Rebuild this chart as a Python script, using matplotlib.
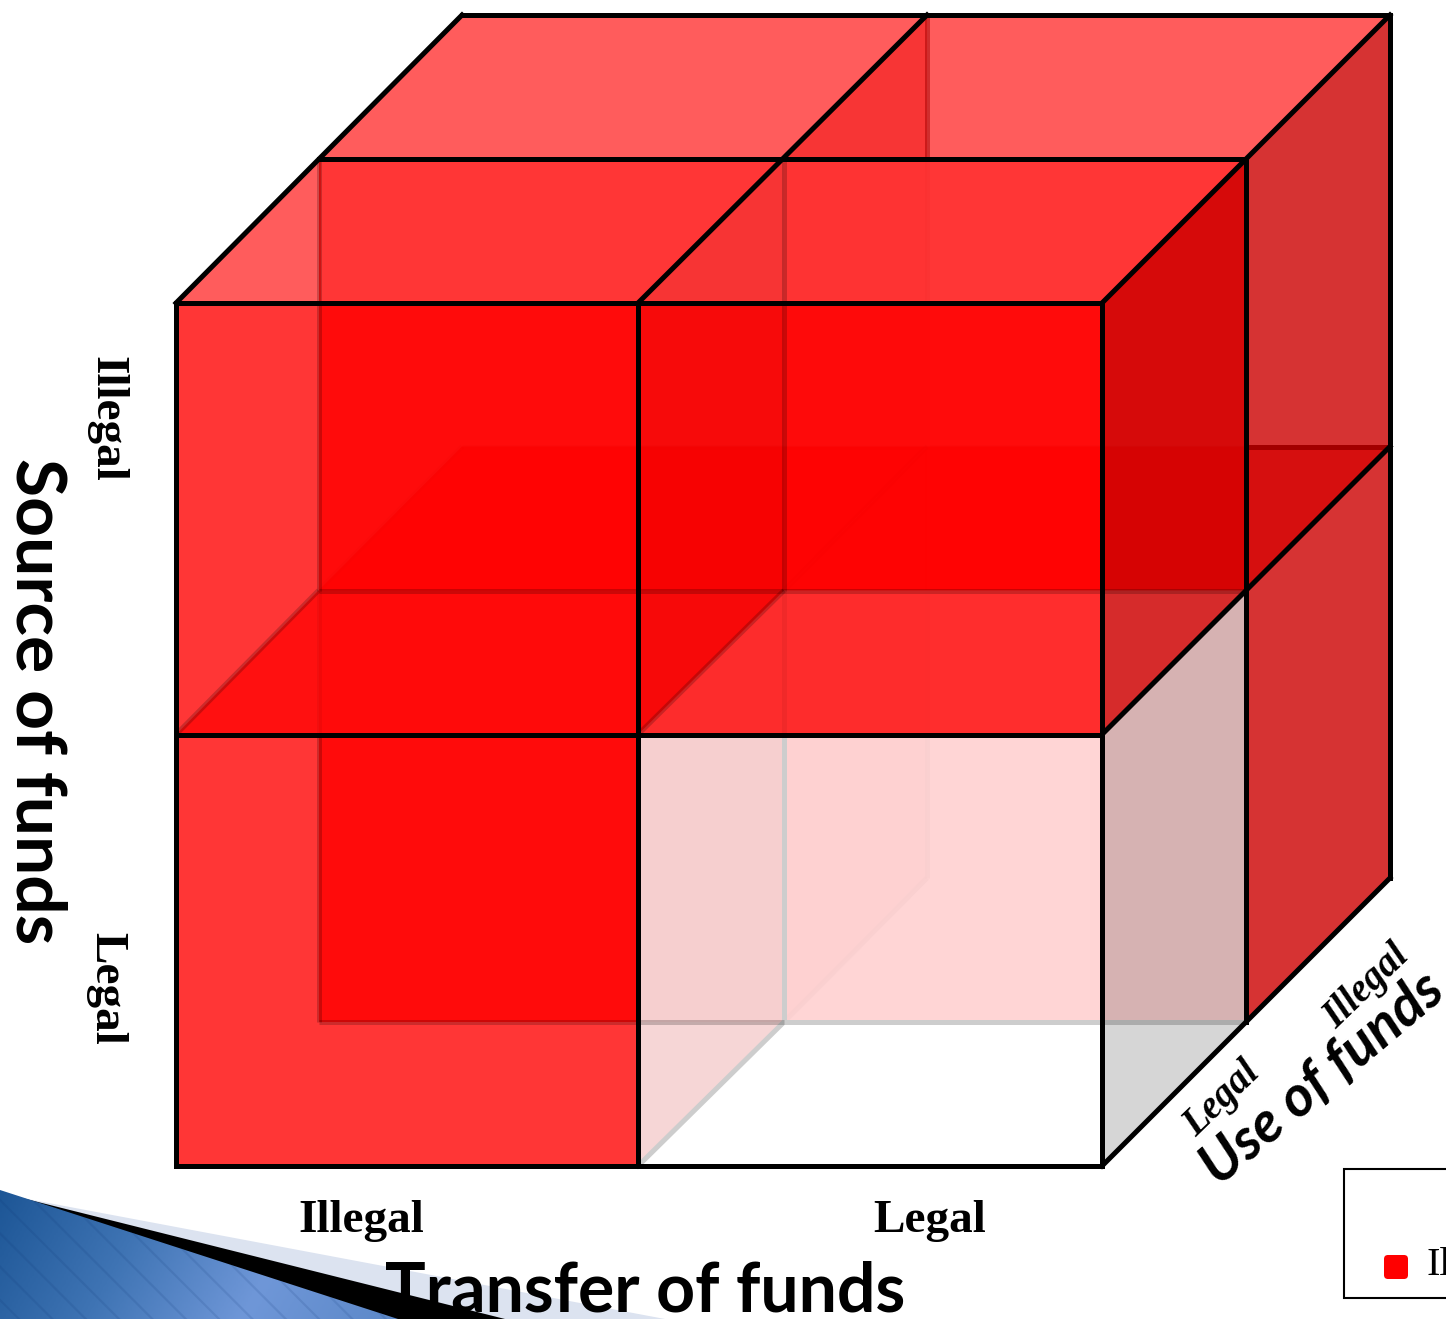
import numpy as np
import matplotlib
matplotlib.use("Agg")
import matplotlib.pyplot as plt
from matplotlib.colors import LinearSegmentedColormap
from matplotlib.patches import Polygon, Rectangle, FancyBboxPatch

# cube axes, one entry per cell along each direction
transfer_labels = ["Illegal", "Legal"]
source_labels = ["Illegal", "Legal"]
use_labels = ["Legal", "Illegal"]
axis_titles = ["Transfer of funds", "Source of funds", "Use of funds"]
legend_labels = ["Illegal"]

# cell_status[transfer][source][use]
cell_status = [
    [["Illegal", "Illegal"], ["Illegal", "Illegal"]],
    [["Illegal", "Illegal"], ["Legal", "Illegal"]],
]

RED = "#ff0000"
DARK = "#cc0000"
LW = 3.6
SERIF = "Liberation Serif"
SANS = "Lato"
STEP_S, STEP_D = 431.5, 144
INNER = 0.2   # see-through strength of the edges inside the cube
OVERLAP = STEP_D / STEP_S   # how far a face one cell deeper rises above the front top edge

# pixel columns of the grid lines at the three depths
COLS_FRONT = [176, 638, 1102]
COLS_MID = [318.5, 784, 1246]
COLS_BACK = [462, 927, 1390]

fig = plt.figure(figsize=(14.46, 13.19), dpi=100)
ax = fig.add_axes([0, 0, 1, 1])
ax.set_axis_off()

order = [10]


def project(t, s, d):
    # oblique projection of cube coordinates to pixels
    cols = [np.interp(t, [0, 1, 2], c) for c in (COLS_FRONT, COLS_MID, COLS_BACK)]
    return (np.interp(d, [0, 1, 2], cols), 303 + STEP_S * s - STEP_D * d)


def next_z():
    order[0] += 1
    return order[0]


def face(corners, color, alpha):
    pts = [project(*c) for c in corners]
    ax.add_patch(Polygon(pts, closed=True, fc=color, ec="none", alpha=alpha, zorder=next_z()))


def side(t, s0, s1, d0, d1, color, alpha):
    face([(t, s0, d0), (t, s0, d1), (t, s1, d1), (t, s1, d0)], color, alpha)


def flat(s, t0, t1, d0, d1, color, alpha):
    face([(t0, s, d0), (t1, s, d0), (t1, s, d1), (t0, s, d1)], color, alpha)


def wall(d, t0, t1, s0, s1, color, alpha):
    face([(t0, s0, d), (t1, s0, d), (t1, s1, d), (t0, s1, d)], color, alpha)


def edge(a, b, color="black", alpha=1.0):
    p, q = project(*a), project(*b)
    ax.plot([p[0], q[0]], [p[1], q[1]], color=color, alpha=alpha, lw=LW,
            solid_capstyle="butt" if alpha < 1 else "projecting", zorder=next_z())


def is_illegal(t, s, d):
    return cell_status[t][s][d] == "Illegal"


# back half: centre plane and its edges
side(1, 0, 2, 1, 2, DARK, 0.42)
edge((1, 0, 2), (1, 2, 2), alpha=0.5)
edge((1, 2, 1), (1, 2, 2), alpha=0.5)

# floor of the front left cell sits behind the middle wall
flat(1, 0, 1, 0, 1, RED, 0.7)

# middle wall hides most of what is behind it
for t0, t1, s0, s1 in [(0, 2, 0, 1), (0, 1, 1, 2)]:
    wall(1, t0, t1, s0, s1, "white", 0.88)
    wall(1, t0, t1, s0, s1, RED, 0.79)

# floor of the upper back cells shows through the wall, then the right side
for t in range(2):
    if is_illegal(t, 0, 1):
        flat(1, t, t + 1, 1, 2, RED, 0.7)
edge((0, 1, 1), (0, 1, 2), alpha=0.05)
edge((1, 1, 1), (1, 1, 2), alpha=0.05)
edge((0, 1, 2), (2, 1, 2), alpha=0.04)
# only the stretch behind the right side reads as a full line
right_start = 1 + (COLS_MID[2] - COLS_BACK[1]) / (COLS_BACK[2] - COLS_BACK[1])
edge((right_start, 1, 2), (2, 1, 2))
side(2, 0, 2, 1, 2, DARK, 0.8)

# the one legal cell stays pale, with everything behind it washed out
for t in range(2):
    for s in range(2):
        if not is_illegal(t, s, 0):
            flat(s, t, t + 1, 0, 1, "white", 0.97)
            wall(0, t, t + 1, s, s + 1, "white", 0.97)
            flat(s + 1, t, t + 1, 0, 1, "white", 1.0)
            wall(1, t, t + 1, s, s + 1, RED, 0.165)
            side(t, s, s + 1, 0, 1, DARK, 0.16)
            edge((t, s + OVERLAP, 1), (t, s + 1, 1), color="#cdcdcd")
            edge((t, s + 1, 1), (t + 1, s + 1, 1), color="#cdcdcd")
            edge((t, s + 1, 0), (t, s + 1, 1), color="#cdcdcd")
            side(t + 1, s, s + 1, 0, 1, "black", 0.16)

# front faces and right side of the remaining front cells
for t in range(2):
    for s in range(2):
        if is_illegal(t, s, 0):
            wall(0, t, t + 1, s, s + 1, RED, 0.79)
side(2, 0, 1, 0, 1, DARK, 0.8)

# slight darkening from the centre plane of the upper front cells
side(1, 0, 1, 0, 1, "black", 0.03)

# roof: the front half only shows where the middle wall does not cover it
flat(0, 0, 2, 1, 2, RED, 0.64)
roof_tip = (COLS_MID[0] - COLS_FRONT[0]) / (COLS_FRONT[1] - COLS_FRONT[0])
face([(0, 0, 0), (0.005, 0, 1), (roof_tip + 0.005, 0, 0)], RED, 0.64)

# edges inside the cube, seen through the faces
for t in range(2):
    edge((t, 0, 1), (t, 1, 1), alpha=INNER)
    edge((t, 1, 1), (t, 1 + OVERLAP, 1), alpha=0.05)
    if is_illegal(t, 1, 0):
        edge((t, 1 + OVERLAP, 1), (t, 2, 1), alpha=INNER)
    edge((t, 1, 0), (t, 1, 1), alpha=INNER)
edge((0, 1, 1), (2, 1, 1), alpha=INNER)
edge((0, 2, 1), (1, 2, 1), alpha=INNER)

# outer frame
for s in range(3):
    edge((0, s, 0), (2, s, 0))
for t in range(3):
    edge((t, 0, 0), (t, 2, 0))
    edge((t, 0, 0), (t, 0, 2))
edge((0, 0, 1), (2, 0, 1))
edge((0, 0, 2), (2, 0, 2))
edge((2, 0, 1), (2, 2, 1))
edge((2, 0, 2), (2, 2, 2))
edge((2, 1, 0), (2, 1, 2))
edge((2, 2, 0), (2, 2, 2))

# axis titles and cell labels
ax.text(645, 1311, axis_titles[0], family=SANS, weight="bold", fontsize=49,
        ha="center", va="baseline", zorder=60)
ax.text(36, 701, axis_titles[1], family=SANS, weight="bold", fontsize=50,
        rotation=-90, ha="center", va="center", zorder=60)
ax.text(1323, 1079, axis_titles[2], family=SANS, weight="bold", style="italic", fontsize=41,
        rotation=40, ha="center", va="center", rotation_mode="anchor", zorder=60)

for label, x in zip(transfer_labels, [361, 930]):
    ax.text(x, 1221, label, family=SERIF, weight="bold", fontsize=34, ha="center", va="center")
for label, y in zip(source_labels, [419, 988]):
    ax.text(106, y, label, family=SERIF, weight="bold", fontsize=34, rotation=-90,
            ha="center", va="center")
for label, (x, y) in zip(use_labels, [(1222, 1099), (1367, 987)]):
    ax.text(x, y, label, family=SERIF, weight="bold", style="italic", fontsize=28, rotation=44,
            ha="center", va="center", rotation_mode="anchor")

# legend box runs off the right edge of the page
ax.add_patch(Rectangle((1344, 1169), 160, 129, fc="white", ec="black", lw=1.5, zorder=20))
ax.add_patch(FancyBboxPatch((1387, 1258), 18, 18, boxstyle="round,pad=3,rounding_size=4",
                            fc=RED, ec="none", zorder=21))
ax.text(1427, 1265, legend_labels[0], family=SERIF, fontsize=29, ha="left", va="center", zorder=21)

# slide decoration in the bottom left corner
ax.add_patch(Polygon([(22, 1198), (665, 1319), (480, 1319)], fc="#dce3f0", ec="none", zorder=2))
ax.add_patch(Polygon([(22, 1198), (505, 1319), (395, 1319)], fc="black", ec="none", zorder=3))
shade = LinearSegmentedColormap.from_list("shade", ["#1d5696", "#3f74b4", "#6f97d8", "#5c88c8"])
xx, yy = np.meshgrid(np.linspace(0, 1, 200), np.linspace(0, 1, 60))
im = ax.imshow(xx * 0.85 + yy * 0.15, cmap=shade, extent=(0, 400, 1319, 1190), aspect="auto", zorder=4)
blue_corners = [(0, 1190), (398, 1319), (0, 1319)]
blue = Polygon(blue_corners, transform=ax.transData, fc="none", ec="none")
ax.add_patch(blue)
im.set_clip_path(blue)
plt.rcParams["hatch.linewidth"] = 1.6
ax.add_patch(Polygon(blue_corners, fc="none", ec=(0.05, 0.2, 0.45, 0.13), lw=0, hatch="\\", zorder=5))

ax.set_xlim(0, 1446)
ax.set_ylim(1319, 0)
fig.savefig("out.png", dpi=100)
